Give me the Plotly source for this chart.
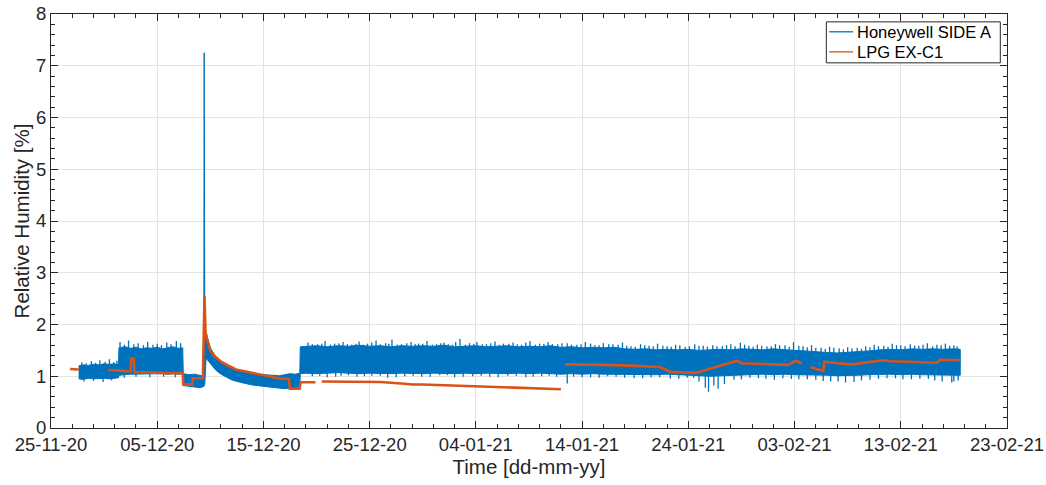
import pandas as pd
import plotly.graph_objects as go

START = pd.Timestamp("2020-11-25")

# Honeywell SIDE A: dense core of the noisy band (days after 25-11-20)
hw_days = [
    2.6, 3.0, 3.5, 4.0, 4.5, 5.0, 5.5, 6.0, 6.35,
    6.4, 7.0, 7.5, 8.0, 8.5, 9.0, 9.5, 10.0, 10.5, 11.0, 11.5, 12.0, 12.4,
    12.45, 13.0, 13.5, 14.0, 14.38, 14.42, 14.48, 14.6, 15.0, 15.5, 16.0, 16.5, 17.0, 17.5,
    18.0, 18.5, 19.0, 19.5, 20.0, 20.5, 21.0, 21.5, 22.0, 22.5, 23.0, 23.42,
    23.47, 24, 25, 26, 27, 28, 29, 30, 31, 32, 33,
    34, 35, 36, 37, 38, 39, 40, 41, 42, 43,
    44, 45, 46, 47, 48, 49, 50, 51, 52, 53,
    54, 55, 56, 57, 58, 59, 60, 61, 62, 63,
    64, 65, 66, 67, 68, 69, 70, 71, 72, 73,
    74, 75, 76, 77, 78, 79, 80, 81, 82, 83,
    84, 85, 85.6]
hw_upper = [
    1.20, 1.22, 1.21, 1.23, 1.22, 1.24, 1.23, 1.24, 1.22,
    1.55, 1.57, 1.54, 1.56, 1.53, 1.55, 1.54, 1.56, 1.53, 1.55, 1.57, 1.54, 1.55,
    1.05, 1.03, 1.04, 1.01, 1.00, 7.25, 1.90, 1.85, 1.55, 1.38, 1.26, 1.20, 1.15, 1.12,
    1.08, 1.07, 1.05, 1.04, 1.03, 1.02, 1.02, 1.01, 1.03, 1.05, 1.04, 1.06,
    1.57, 1.58, 1.59, 1.57, 1.59, 1.58, 1.60, 1.58, 1.59, 1.57, 1.59,
    1.58, 1.59, 1.58, 1.60, 1.57, 1.58, 1.59, 1.57, 1.58, 1.59,
    1.57, 1.58, 1.57, 1.59, 1.56, 1.57, 1.55, 1.56, 1.55, 1.56,
    1.53, 1.52, 1.53, 1.51, 1.52, 1.51, 1.52, 1.50, 1.51, 1.52,
    1.51, 1.53, 1.52, 1.51, 1.53, 1.51, 1.50, 1.49, 1.47, 1.46,
    1.45, 1.46, 1.47, 1.49, 1.51, 1.52, 1.51, 1.53, 1.52, 1.53,
    1.52, 1.53, 1.52]
hw_lower = [
    0.95, 0.94, 0.96, 0.95, 0.95, 0.96, 0.95, 0.96, 0.97,
    1.02, 1.03, 1.04, 1.05, 1.04, 1.05, 1.04, 1.05, 1.05, 1.04, 1.05, 1.04, 1.05,
    0.82, 0.80, 0.79, 0.78, 0.80, 0.80, 0.85, 1.35, 1.25, 1.12, 1.04, 0.98, 0.93, 0.90,
    0.87, 0.85, 0.83, 0.82, 0.80, 0.79, 0.78, 0.77, 0.76, 0.76, 0.78, 0.79,
    1.05, 1.06, 1.05, 1.06, 1.07, 1.06, 1.05, 1.06, 1.06, 1.05, 1.06,
    1.06, 1.05, 1.06, 1.06, 1.05, 1.06, 1.05, 1.06, 1.06, 1.05,
    1.06, 1.05, 1.06, 1.05, 1.04, 1.05, 1.04, 1.05, 1.04, 1.04,
    1.03, 1.04, 1.03, 1.03, 1.04, 1.03, 1.02, 1.01, 1.00, 1.01,
    1.02, 1.03, 1.03, 1.04, 1.03, 1.04, 1.03, 1.03, 1.02, 1.02,
    1.01, 1.01, 1.02, 1.03, 1.04, 1.04, 1.03, 1.04, 1.03, 1.03,
    1.02, 1.02, 1.02]

# Honeywell SIDE A: individual noise spikes beyond the dense core (day, value)
hw_spike_up_days = [2.9, 3.3, 3.8, 4.2, 4.6, 5.1, 5.5, 5.9, 6.2,
                    6.5, 6.9, 7.3, 7.8, 8.2, 8.7, 9.1, 9.6, 10.0, 10.4, 10.9, 11.3, 11.8, 12.2,
                    24.2, 25.1, 25.8, 26.7, 27.5, 28.3, 29.0, 29.8, 30.6, 31.5, 32.1, 33.0,
                    33.9, 34.6, 35.4, 36.3, 37.0, 37.8, 38.5, 39.4, 40.1, 41.0, 41.8, 42.6,
                    43.5, 44.3, 45.1, 46.0, 46.8, 47.7, 48.6, 49.5, 50.3, 51.2, 52.0, 52.9,
                    53.8, 54.6, 55.5, 56.3, 57.1, 58.0, 58.8, 59.7, 60.6, 61.4, 62.3, 63.2,
                    64.0, 64.9, 65.7, 66.5, 67.4, 68.2, 69.1, 69.9, 70.8, 71.6, 72.5, 73.3,
                    74.2, 75.0, 75.9, 76.7, 77.5, 78.4, 79.2, 80.0, 80.9, 81.7, 82.5, 83.4,
                    84.2, 85.0,
                    24.6, 25.5, 26.3, 27.1, 27.9, 28.7, 29.4, 30.2, 31.0, 31.8,
                    32.6, 33.5, 34.3, 35.0, 35.9, 36.7, 37.4, 38.1, 39.0, 39.8,
                    40.6, 41.4, 42.2, 43.1, 43.9, 44.7, 45.6, 46.4, 47.2, 48.1,
                    49.0, 49.9, 50.8, 51.6, 52.5, 53.4, 54.2, 55.0, 55.9, 56.7,
                    57.6, 58.4, 59.2, 60.1, 61.0, 61.8, 62.7, 63.6, 64.4, 65.3,
                    66.1, 66.9, 67.8, 68.6, 69.5, 70.4, 71.2, 72.0, 72.9, 73.7,
                    74.6, 75.4, 76.3, 77.1, 77.9, 78.8, 79.6, 80.4, 81.3, 82.1,
                    83.0, 83.8, 84.6, 85.3]
hw_spike_up_vals = [1.27, 1.25, 1.29, 1.26, 1.31, 1.28, 1.33, 1.27, 1.30,
                    1.66, 1.61, 1.69, 1.62, 1.64, 1.60, 1.66, 1.61, 1.63, 1.60, 1.65, 1.62, 1.68, 1.64,
                    1.65, 1.62, 1.68, 1.63, 1.66, 1.61, 1.67, 1.63, 1.69, 1.64, 1.71, 1.62,
                    1.66, 1.63, 1.68, 1.62, 1.65, 1.61, 1.72, 1.64, 1.66, 1.62, 1.67, 1.63,
                    1.65, 1.61, 1.68, 1.63, 1.66, 1.62, 1.64, 1.61, 1.66, 1.60, 1.64, 1.62,
                    1.65, 1.58, 1.62, 1.59, 1.63, 1.58, 1.61, 1.57, 1.62, 1.59, 1.60, 1.58,
                    1.62, 1.65, 1.59, 1.61, 1.58, 1.62, 1.60, 1.66, 1.58, 1.60, 1.55, 1.57,
                    1.54, 1.56, 1.55, 1.58, 1.61, 1.59, 1.63, 1.60, 1.62, 1.59, 1.64, 1.61,
                    1.63, 1.60,
                    1.62, 1.63, 1.61, 1.64, 1.62, 1.63, 1.61, 1.65, 1.62, 1.63,
                    1.61, 1.64, 1.62, 1.63, 1.61, 1.64, 1.62, 1.66, 1.61, 1.63,
                    1.62, 1.64, 1.61, 1.63, 1.62, 1.65, 1.61, 1.63, 1.62, 1.64,
                    1.61, 1.62, 1.63, 1.60, 1.62, 1.61, 1.59, 1.57, 1.60, 1.58,
                    1.59, 1.57, 1.60, 1.58, 1.59, 1.57, 1.58, 1.60, 1.58, 1.61,
                    1.57, 1.59, 1.58, 1.60, 1.57, 1.59, 1.56, 1.55, 1.53, 1.55,
                    1.52, 1.54, 1.53, 1.56, 1.58, 1.57, 1.60, 1.58, 1.59, 1.61,
                    1.58, 1.60, 1.59, 1.58]
hw_spike_dn_days = [3.1, 4.0, 4.9, 5.7,
                    6.9, 8.0, 9.3, 10.6, 11.7,
                    24.6, 26.0, 27.3, 28.8, 30.2, 31.7, 33.3, 34.9, 36.6, 38.0, 39.7, 41.3,
                    43.0, 44.7, 46.2, 47.6, 48.6, 50.0, 51.6, 53.2, 54.9, 56.5, 58.3, 59.9,
                    61.0, 61.6, 61.9, 62.4, 62.8, 63.4, 64.3, 65.8, 67.3, 68.9, 70.4, 72.0,
                    73.4, 74.8, 76.3, 77.9, 79.5, 81.0, 82.6, 83.9, 84.8, 85.4,
                    25.3, 26.8, 28.0, 29.5, 31.0, 32.5, 34.1, 35.7, 37.3, 38.8,
                    40.5, 42.1, 43.8, 45.4, 46.9, 49.2, 50.8, 52.4, 54.0, 55.7,
                    57.3, 59.1, 60.5, 65.0, 66.6, 68.1, 69.7, 71.2, 72.7, 74.1,
                    75.6, 77.1, 78.7, 80.2, 81.8, 83.2, 85.0]
hw_spike_dn_vals = [0.90, 0.91, 0.89, 0.92,
                    0.97, 0.99, 0.98, 0.99, 0.98,
                    1.00, 0.98, 1.01, 0.99, 1.01, 0.97, 1.00, 0.99, 1.02, 0.98, 1.00, 0.99,
                    1.01, 0.98, 1.00, 0.99, 0.86, 0.98, 0.97, 0.99, 0.96, 0.98, 0.95, 0.97,
                    0.90, 0.78, 0.70, 0.82, 0.76, 0.85, 0.93, 0.97, 0.95, 0.96, 0.94, 0.93,
                    0.90, 0.88, 0.92, 0.95, 0.96, 0.94, 0.95, 0.90, 0.88, 0.92,
                    1.01, 0.99, 1.02, 1.00, 1.01, 0.98, 1.01, 0.99, 1.02, 0.99,
                    1.01, 0.98, 1.01, 0.99, 1.01, 0.99, 0.98, 1.00, 0.97, 0.96,
                    0.98, 0.95, 0.97, 0.94, 0.96, 0.93, 0.95, 0.94, 0.91, 0.90,
                    0.89, 0.93, 0.96, 0.94, 0.95, 0.92, 0.90]

# LPG EX-C1 (None = gap in record)
lpg_days = [1.8, 2.6, None, 5.4, 6.0, 6.5, 7.0, 7.5, 7.55, 7.8, 7.85, 9.0, 10.0, 11.0, 12.4, 12.45,
            13.3, 13.35, 14.3, 14.45, 14.55, 14.7, 15.0, 15.3, 16.0, 16.6, 17.4, 18.1, 19.0, 19.7,
            20.5, 21.6, 22.4, 22.5, 23.4, 23.5, 24.9, None, 25.5, 27.0, 29.0, 31.0, 33.0, 34.0,
            35.0, 36.3, 41.7, 44.0, 46.0, 48.0, None, 48.4, 50.0, 52.0, 54.0, 56.0, 57.3, 58.4,
            59.0, 60.7, 64.6, 65.0, 67.0, 69.4, 70.1, 70.7, None, 71.5, 72.7, 72.8, 74.0, 75.5,
            76.5, 77.5, 78.3, 79.0, 81.0, 83.4, 83.7, 85.6]
lpg_vals = [1.14, 1.13, None, 1.12, 1.12, 1.11, 1.10, 1.10, 1.34, 1.34, 1.08, 1.07, 1.06, 1.06,
            1.06, 0.84, 0.84, 0.96, 0.96, 2.55, 1.85, 1.70, 1.50, 1.41, 1.28, 1.21, 1.13, 1.10,
            1.06, 1.03, 1.00, 0.955, 0.95, 0.76, 0.76, 0.885, 0.885, None, 0.90, 0.90, 0.895,
            0.89, 0.86, 0.84, 0.84, 0.83, 0.79, 0.78, 0.76, 0.75, None, 1.23, 1.23, 1.22, 1.21,
            1.20, 1.18, 1.08, 1.08, 1.065, 1.30, 1.25, 1.23, 1.22, 1.30, 1.25, None, 1.18, 1.10,
            1.28, 1.25, 1.23, 1.26, 1.28, 1.31, 1.29, 1.28, 1.26, 1.32, 1.31]

x_ticks_days = [0, 10, 20, 30, 40, 50, 60, 70, 80, 90]
legend_names = ["Honeywell SIDE A", "LPG EX-C1"]

BLUE = "#0072BD"
ORANGE = "#D95319"
AXC = "#262626"
FONT = "Liberation Sans, Arial, Helvetica, sans-serif"
SPIKE_BASE = 1.15  # spikes are drawn from inside the dense band


def to_dt(days):
    return [None if d is None else START + pd.Timedelta(days=d) for d in days]


hw_x = to_dt(hw_days)
poly_x = hw_x + hw_x[::-1]
poly_y = hw_upper + hw_lower[::-1]

spk_x, spk_y = [], []
for d, v in list(zip(hw_spike_up_days, hw_spike_up_vals)) + list(zip(hw_spike_dn_days, hw_spike_dn_vals)):
    t = START + pd.Timedelta(days=d)
    spk_x += [t, t, None]
    spk_y += [SPIKE_BASE, v, None]

fig = go.Figure()
fig.add_trace(go.Scatter(x=poly_x, y=poly_y, fill="toself", fillcolor=BLUE, mode="lines",
                         line=dict(color=BLUE, width=1), name=legend_names[0],
                         showlegend=False, hoverinfo="skip"))
fig.add_trace(go.Scatter(x=spk_x, y=spk_y, mode="lines", line=dict(color=BLUE, width=1.3),
                         name=legend_names[0], showlegend=False, hoverinfo="skip"))
fig.add_trace(go.Scatter(x=to_dt(lpg_days), y=lpg_vals, mode="lines",
                         line=dict(color=ORANGE, width=2.6), name=legend_names[1],
                         connectgaps=False, showlegend=False))

# legend drawn as box + sample lines + text (paper coordinates)
lx0, lx1, ly0, ly1 = 0.811, 0.993, 0.882, 0.981
fig.add_shape(type="rect", xref="paper", yref="paper", x0=lx0, x1=lx1, y0=ly0, y1=ly1,
              line=dict(color=AXC, width=1), fillcolor="white", layer="above")
for i, (nm, col) in enumerate(zip(legend_names, [BLUE, ORANGE])):
    yy = 0.957 - i * 0.0485
    fig.add_shape(type="line", xref="paper", yref="paper", x0=0.814, x1=0.839, y0=yy, y1=yy,
                  line=dict(color=col, width=1.3), layer="above")
    fig.add_annotation(x=0.841, y=yy, xref="paper", yref="paper", text=nm, showarrow=False,
                       xanchor="left", yanchor="middle", font=dict(size=16.5, color="black"))

tick_vals = to_dt(x_ticks_days)
tick_text = [t.strftime("%d-%m-%y") for t in tick_vals]

fig.update_layout(
    width=1046, height=485,
    margin=dict(l=51, r=39, t=14, b=57),
    paper_bgcolor="white", plot_bgcolor="white",
    font=dict(family=FONT, color=AXC, size=18),
    showlegend=False,
)
fig.update_xaxes(
    range=[START, START + pd.Timedelta(days=90)], automargin=False,
    tickvals=tick_vals, ticktext=tick_text,
    ticks="inside", ticklen=7, tickcolor=AXC, tickwidth=1,
    showline=True, linecolor=AXC, linewidth=1, mirror="ticks",
    showgrid=True, gridcolor="#e3e3e3", gridwidth=1, zeroline=False,
    tickfont=dict(size=18.5, color=AXC),
    title=dict(text="Time [dd-mm-yy]", font=dict(size=20.5, color=AXC), standoff=2),
    minor=dict(ticks="inside", ticklen=4, tickcolor=AXC, dtick=2 * 86400000,
               tick0=START, showgrid=False),
)
fig.update_yaxes(
    range=[0, 8], dtick=1, tick0=0, automargin=False,
    ticks="inside", ticklen=7, tickcolor=AXC, tickwidth=1,
    showline=True, linecolor=AXC, linewidth=1, mirror="ticks",
    showgrid=True, gridcolor="#e3e3e3", gridwidth=1, zeroline=False,
    tickfont=dict(size=18.5, color=AXC),
    title=dict(text="Relative Humidity [%]", font=dict(size=20.5, color=AXC), standoff=0),
    minor=dict(ticks="inside", ticklen=4, tickcolor=AXC, dtick=0.2, showgrid=False),
)

fig.write_html("out.html", config={"displayModeBar": False},
               post_script="document.body.style.margin='0';")
